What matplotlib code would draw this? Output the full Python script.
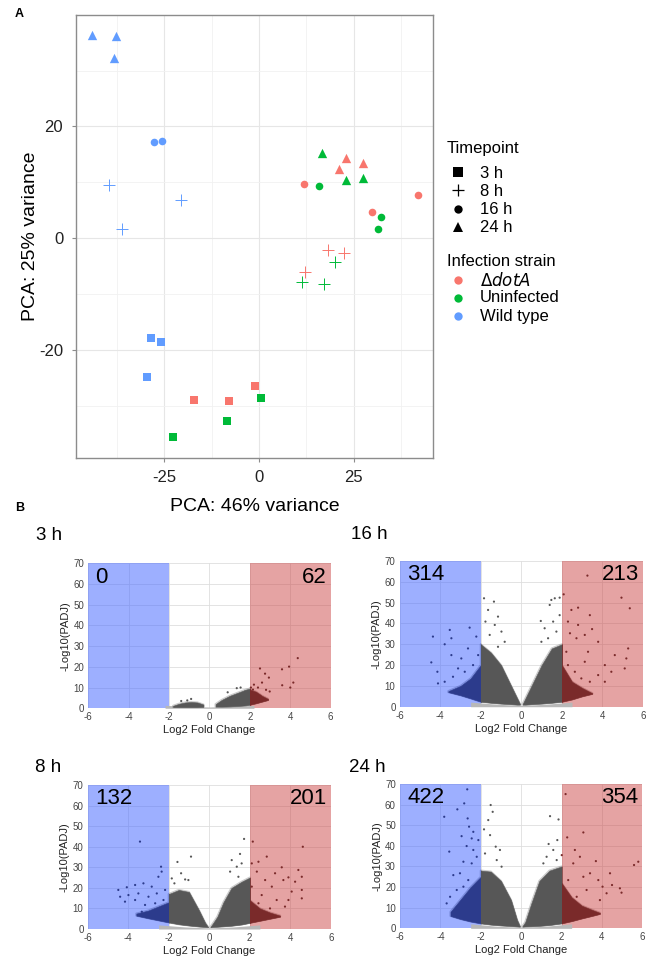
import numpy as np
import matplotlib.pyplot as plt
from matplotlib.patches import Rectangle

plt.rcParams['font.family'] = ['Liberation Sans', 'DejaVu Sans']
plt.rcParams['axes.unicode_minus'] = False

# ---------------- panel A: PCA ----------------
pca_x = [-28.6, -25.9, -29.6, -39.7, -20.6, -36.1, -27.6, -25.6, -44.1, -37.7, -38.3,
         -17.2, -7.9, -1.1, 18.2, 22.5, 12.2, 12.0, 42.0, 29.9, 23.0, 27.4, 21.1,
         0.5, -8.5, -22.7, 20.1, 11.4, 17.2, 15.9, 32.3, 31.4, 16.7, 23.1, 27.4]
pca_y = [-17.8, -18.6, -24.9, 9.6, 6.9, 1.6, 17.3, 17.4, 36.4, 36.1, 32.3,
         -29.0, -29.2, -26.5, -2.1, -2.7, -6.0, 9.7, 7.7, 4.6, 14.4, 13.5, 12.3,
         -28.6, -32.7, -35.6, -4.2, -7.9, -8.2, 9.3, 3.8, 1.7, 15.2, 10.4, 10.8]
pca_time = ['3 h'] * 3 + ['8 h'] * 3 + ['16 h'] * 2 + ['24 h'] * 3 + \
           (['3 h'] * 3 + ['8 h'] * 3 + ['16 h'] * 3 + ['24 h'] * 3) * 2
pca_strain = ['Wild type'] * 11 + ['dotA'] * 12 + ['Uninfected'] * 12

timepoints = ['3 h', '8 h', '16 h', '24 h']
strains = ['dotA', 'Uninfected', 'Wild type']
strain_labels = [r'$\Delta\it{dotA}$', 'Uninfected', 'Wild type']
strain_colors = {'dotA': '#F8766D', 'Uninfected': '#00BA38', 'Wild type': '#619CFF'}
time_markers = {'3 h': 's', '8 h': '+', '16 h': 'o', '24 h': '^'}
time_sizes = {'3 h': 30, '8 h': 80, '16 h': 30, '24 h': 45}

# ---------------- panel B: volcano plots ----------------
# dense clouds: envelope of the point cloud (x, top, bottom)
h3_lx = [-1.8, -1.5, -1.2, -0.9, -0.6, -0.3]
h3_ltop = [1.2, 2.2, 2.8, 3.0, 2.8, 1.8]
h3_lbot = [0.6, 0.6, 0.6, 0.6, 0.6, 0.7]
h3_rx = [0.3, 0.6, 1.0, 1.4, 1.8, 2.0, 2.0, 2.3, 2.6, 2.9]
h3_rtop = [2.0, 4.0, 6.0, 7.5, 9.0, 9.5, 9.0, 8.0, 6.0, 4.5]
h3_rbot = [0.8, 0.8, 0.9, 1.1, 1.4, 1.7, 1.7, 2.4, 3.2, 4.0]
h3_nsx = [-2.2, -1.0, 0.0, 1.0, 2.2]
h3_nstop = [1.4, 0.9, 0.6, 0.9, 1.4]
h3_px = [4.37, 3.94, 2.5, 2.75, 2.94, 3.59, 4.15, 4.0, 3.6, 2.6, 2.2, 2.4, 2.98, 2.8,
         2.05, -0.91, 1.35, 1.54, 0.9, 1.76, 2.3, 2.5, 2.15, -1.4, -1.1]
h3_py = [24.2, 20.1, 19.2, 16.7, 14.8, 18.8, 12.4, 10.0, 11.1, 12.4, 11.4, 10.0, 8.1, 8.9,
         10.0, 4.5, 9.7, 10.0, 7.7, 8.0, 7.0, 6.0, 9.0, 3.5, 3.8]

h16_lx = [-3.6, -3.0, -2.5, -2.0, -2.0, -1.5, -1.0, -0.5, -0.2, -0.06]
h16_ltop = [7.5, 10, 13.6, 20, 30, 26, 20, 10, 4, 1.2]
h16_lbot = [7, 5.5, 4, 2.4, 2.4, 1.9, 1.5, 1.2, 1.0, 1.0]
h16_rx = [0.06, 0.2, 0.5, 1.0, 1.5, 2.0, 2.0, 2.5, 3.0, 3.5]
h16_rtop = [1.2, 4, 10, 20, 28, 30, 20, 12, 9, 6.5]
h16_rbot = [1.0, 1.0, 1.2, 1.5, 1.9, 2.4, 2.4, 3.5, 5, 6.2]
h16_nsx = [-2.5, -1.2, 0.0, 1.2, 2.5]
h16_nstop = [2.2, 1.2, 0.6, 1.2, 2.2]
h16_px = [-4.36, -3.53, -3.45, -2.55, -3.78, -4.44, -4.14, -3.45, -2.96, -2.63, -2.22, -2.38,
          -3.12, -2.79, -3.78, -3.37, -2.13, -4.11,
          -1.84, -1.35, -1.64, -1.15, -1.77, -1.31, -0.98, -1.56, -0.82, -1.15,
          1.48, 1.65, 1.89, 0.96, 1.4, 1.15, 1.57, 1.32, 1.73, 0.99, 1.89,
          2.09, 3.26, 4.94, 5.35, 2.47, 2.8, 3.38, 2.3, 2.8, 3.49, 2.4, 3.13, 3.79, 2.72,
          4.61, 5.27, 2.22, 3.29, 4.12, 5.18, 3.13, 2.64, 3.79, 4.44, 5.1, 3.38, 4.12, 2.3, 2.96]
h16_py = [33.7, 36.9, 32.9, 38, 30, 21.3, 16.8, 24.8, 23.2, 28, 33.7, 20,
          18.4, 16.8, 12, 14.4, 24.8, 11.2,
          52.1, 50.5, 46.5, 43.3, 40.9, 39.3, 36.1, 34.5, 31.2, 28.8,
          51.3, 52.1, 52.4, 41.2, 48.9, 37.7, 40.9, 32.9, 36.1, 31.2, 44,
          54, 63, 52.4, 47.3, 46.5, 47.6, 44, 40.9, 39.3, 37.3, 35.3, 34.5, 31.2, 32.9,
          24.8, 28, 26.4, 26.4, 20, 23.2, 21.6, 16.8, 15.2, 16.8, 18.4, 12, 12, 20, 13.6]

h8_lx = [-3.6, -3.0, -2.5, -2.0, -2.0, -1.5, -1.0, -0.5, -0.2, -0.06]
h8_ltop = [7.5, 9, 11, 13, 17, 19, 18, 9, 3, 1]
h8_lbot = [6.5, 5.2, 4.2, 3.2, 3.2, 2.3, 1.7, 1.2, 1.0, 0.9]
h8_rx = [0.06, 0.2, 0.4, 0.7, 1.1, 1.6, 2.0, 2.0, 2.5, 3.0, 3.5]
h8_rtop = [1, 3, 6, 13, 20, 23, 25, 14, 10, 8, 6.5]
h8_rbot = [0.9, 1.0, 1.1, 1.3, 1.6, 2.2, 3.0, 3.0, 4.0, 5.0, 6.0]
h8_nsx = [-2.5, -1.2, 0.0, 1.2, 2.5]
h8_nstop = [2.0, 1.0, 0.5, 1.0, 2.0]
h8_px = [-3.42, -2.38, -2.35, -2.51, -4.49, -4.07, -3.66, -3.25, -2.84, -4.4, -3.99, -3.5,
         -3.0, -2.59, -2.18, -4.16, -3.66, -3.17, -2.67, -2.26, -3.33, -2.84,
         -0.9, -1.57, -1.39, -1.19, -1.03, -1.85, -1.72,
         1.72, 1.52, 1.11, 1.36, 1.6, 1.03, 1.44,
         2.15, 4.62, 2.84, 2.43, 3.58, 2.1, 3.25, 4.4, 3.91, 4.57, 2.35, 2.76, 3.66, 4.24,
         3.09, 4.07, 4.57, 2.1, 2.59, 3.91, 4.57, 3.33, 2.43, 3.0, 3.74]
h8_py = [42.5, 30.3, 27.9, 25.4, 19, 20.3, 21.4, 22.2, 20.6, 15.7, 16.5, 17.3,
         15.7, 17.3, 19, 13.3, 14.1, 11.7, 12.5, 14.1, 8.4, 7.6,
         35.2, 32.6, 27.1, 24.1, 23.8, 24.6, 22.2,
         43.8, 36.5, 33.5, 30.3, 31.9, 27.9, 25.4,
         42.5, 40, 35.2, 32.7, 30, 31.9, 27.1, 28.7, 25.1, 25.4, 27.9, 23.8, 23.8, 23,
         20.6, 18.2, 19, 20.6, 16.5, 14.1, 14.9, 14.1, 12.5, 10, 10.9]

h24_lx = [-3.5, -3.0, -2.5, -2.0, -2.0, -1.5, -1.0, -0.5, -0.2, -0.06]
h24_ltop = [8, 14, 20, 25, 28, 27.5, 23, 13.7, 4, 1]
h24_lbot = [6, 4.5, 3.3, 2.4, 2.4, 1.8, 1.4, 1.1, 0.9, 0.8]
h24_rx = [0.06, 0.2, 0.5, 0.9, 1.4, 2.0, 2.0, 2.5, 3.0, 3.5, 3.9]
h24_rtop = [1, 3, 12, 23, 28, 30, 22, 15, 11, 9, 7.5]
h24_rbot = [0.8, 0.9, 1.0, 1.2, 1.6, 2.4, 2.4, 3.5, 4.8, 6.0, 7.0]
h24_nsx = [-2.5, -1.2, 0.0, 1.2, 2.5]
h24_nstop = [2.2, 1.0, 0.5, 1.0, 2.2]
h24_px = [-2.67, -2.82, -3.16, -3.81, -2.65, -2.58, -2.37, -2.95, -2.45, -2.12, -3.56, -2.7,
          -2.37, -2.2, -2.86, -2.45, -3.36, -3.03, -2.62, -3.69, -3.52, -3.19, -2.86, -2.29,
          -1.51, -1.41, -1.63, -1.84, -1.54, -1.26, -1.05, -1.79, -1.21, -0.97,
          1.43, 1.85, 1.79, 1.36, 1.59, 1.26, 1.76, 1.1,
          2.2, 3.08, 2.28, 5.59, 5.8, 3.7, 2.66, 2.91, 2.01, 2.58, 3.41, 4.4, 3.82, 4.5,
          4.97, 4.03, 3.08, 2.33, 3.24, 3.9, 2.75, 4.23, 4.89]
h24_py = [67.4, 60.6, 57.7, 54.1, 53.3, 49.3, 46.8, 44.7, 43.6, 42.8, 37.2, 39.9,
          38, 34.7, 32.3, 31.5, 25.8, 26.7, 23.4, 12.1, 15.3, 18.6, 20.2, 20.2,
          59.8, 56.5, 52.5, 48, 45.2, 39.6, 38, 36.3, 33.1, 29.9,
          54.4, 52.8, 42.8, 40.9, 38, 34.7, 33.1, 31.5,
          65.1, 46.5, 44.1, 30.7, 32.3, 32.6, 38, 34.7, 35.5, 31.5, 26.7, 26.7, 23.4, 21,
          17.3, 20.2, 25, 23.4, 18.6, 13.7, 15.3, 17, 19.4]

counts = {'3 h': (0, 62), '16 h': (314, 213), '8 h': (132, 201), '24 h': (422, 354)}

GRAY = '#575757'
NAVY = '#2c3b8c'
MAROON = '#7a2a2a'


def draw_volcano(ax, name, lx, ltop, lbot, rx, rtop, rbot, nsx, nstop, px, py):
    ax.set_xlim(-6, 6)
    ax.set_ylim(0, 70)
    ax.set_xticks(range(-6, 7, 2))
    ax.set_yticks(range(0, 71, 10))
    ax.grid(color='#dedede', lw=0.6, zorder=0)
    ax.set_axisbelow(True)
    for s in ax.spines.values():
        s.set_visible(False)
    ax.tick_params(length=0, labelsize=7, colors='#444444', pad=3)
    ax.set_xlabel('Log2 Fold Change', fontsize=8, color='#222222', labelpad=2)
    ax.set_ylabel('-Log10(PADJ)', fontsize=8, color='#222222', labelpad=2)
    ax.axvspan(-6, -2, color='#4d6eff', alpha=0.55, lw=0, zorder=1)
    ax.axvspan(2, 6, color='#cc4848', alpha=0.5, lw=0, zorder=1)
    ax.fill_between(nsx, 0, nstop, color='#b8b8b8', lw=0, zorder=2)
    for x0, x1, col in [(-7, -2, NAVY), (-2, 2, GRAY), (2, 7, MAROON)]:
        clip = Rectangle((x0, -5), x1 - x0, 90, transform=ax.transData)
        for xs, tops, bots in [(lx, ltop, lbot), (rx, rtop, rbot)]:
            # soft halo round the dense core
            halo = ax.fill_between(xs, bots, tops, facecolor='none', edgecolor=col,
                                   alpha=0.3, lw=1.5, zorder=3)
            halo.set_clip_path(clip)
            poly = ax.fill_between(xs, bots, tops, color=col, lw=0.4, zorder=3)
            poly.set_clip_path(clip)
    px = np.array(px)
    py = np.array(py)
    cols = np.where(px < -2, NAVY, np.where(px > 2, MAROON, GRAY))
    ax.scatter(px, py, s=2.5, c=cols, lw=0, zorder=4)
    dn, up = counts[name]
    ax.text(0.03, 0.905, str(dn), transform=ax.transAxes, fontsize=16, va='center', ha='left', zorder=5)
    ax.text(0.985, 0.905, str(up), transform=ax.transAxes, fontsize=16, va='center', ha='right', zorder=5)


fig = plt.figure(figsize=(6.46, 9.61), dpi=100)

ax = fig.add_axes([0.1172, 0.5237, 0.5534, 0.4610])
for strain in strains:
    for t in timepoints:
        idx = [i for i in range(len(pca_x)) if pca_strain[i] == strain and pca_time[i] == t]
        if not idx:
            continue
        xs = [pca_x[i] for i in idx]
        ys = [pca_y[i] for i in idx]
        if t == '8 h':
            ax.scatter(xs, ys, marker='+', s=time_sizes[t], c=strain_colors[strain], lw=0.7, zorder=3)
        else:
            ax.scatter(xs, ys, marker=time_markers[t], s=time_sizes[t], c=strain_colors[strain],
                       lw=0, zorder=3)
ax.set_xlim(-48.4, 46.0)
ax.set_ylim(-39.3, 40.0)
ax.set_xticks([-25, 0, 25])
ax.set_yticks([-20, 0, 20])
ax.set_xticks([-37.5, -12.5, 12.5, 37.5], minor=True)
ax.set_yticks([-30, -10, 10, 30], minor=True)
ax.grid(which='major', color='#e6e6e6', lw=0.8, zorder=0)
ax.grid(which='minor', color='#f1f1f1', lw=0.6, zorder=0)
ax.tick_params(which='major', length=3, color='#8c8c8c', labelsize=12, labelcolor='#222222', pad=6)
ax.tick_params(which='minor', length=0)
for s in ax.spines.values():
    s.set_color('#8c8c8c')
    s.set_linewidth(1.0)
ax.set_xlabel('PCA: 46% variance', fontsize=14, labelpad=9)
ax.set_ylabel('PCA: 25% variance', fontsize=14, labelpad=0)

# legend drawn in an overlay axes measured in figure pixels
lax = fig.add_axes([0, 0, 1, 1])
lax.set_xlim(0, 646)
lax.set_ylim(961, 0)
lax.axis('off')
lax.text(447, 148, 'Timepoint', fontsize=12, va='center', ha='left')
for i, t in enumerate(timepoints):
    y = 172 + i * 18.3
    if t == '8 h':
        lax.plot(458, y, ls='', marker='+', ms=8, mew=0.9, color='black')
    else:
        lax.plot(458, y, ls='', marker=time_markers[t], ms=7 if t != '16 h' else 6, mew=0, color='black')
    lax.text(480, y + 1, t, fontsize=12, va='center', ha='left')
lax.text(447, 262, 'Infection strain', fontsize=12, va='center', ha='left')
for i, s in enumerate(strains):
    y = 280 + i * 18
    lax.plot(458, y, ls='', marker='o', ms=6, mew=0, color=strain_colors[s])
    lax.text(480, y, strain_labels[i], fontsize=12, va='center', ha='left')

fig.text(0.023, 0.985, 'A', fontsize=9, fontweight='bold', va='center')
fig.text(0.023, 0.471, 'B', fontsize=9, fontweight='bold', va='center')

panels = [
    ('3 h', [0.1367, 0.2630, 0.3752, 0.1509], h3_lx, h3_ltop, h3_lbot, h3_rx, h3_rtop, h3_rbot, h3_nsx, h3_nstop, h3_px, h3_py, (0.055, 0.443)),
    ('16 h', [0.6187, 0.2646, 0.3766, 0.1516], h16_lx, h16_ltop, h16_lbot, h16_rx, h16_rtop, h16_rbot, h16_nsx, h16_nstop, h16_px, h16_py, (0.543, 0.444)),
    ('8 h', [0.1358, 0.0333, 0.3762, 0.1498], h8_lx, h8_ltop, h8_lbot, h8_rx, h8_rtop, h8_rbot, h8_nsx, h8_nstop, h8_px, h8_py, (0.054, 0.201)),
    ('24 h', [0.6192, 0.0340, 0.3751, 0.1502], h24_lx, h24_ltop, h24_lbot, h24_rx, h24_rtop, h24_rbot, h24_nsx, h24_nstop, h24_px, h24_py, (0.541, 0.201)),
]
for name, rect, lx, ltop, lbot, rx, rtop, rbot, nsx, nstop, px, py, tpos in panels:
    vax = fig.add_axes(rect)
    draw_volcano(vax, name, lx, ltop, lbot, rx, rtop, rbot, nsx, nstop, px, py)
    fig.text(tpos[0], tpos[1], name, fontsize=13.5, va='center', ha='left')

fig.savefig('out.png', dpi=100)
